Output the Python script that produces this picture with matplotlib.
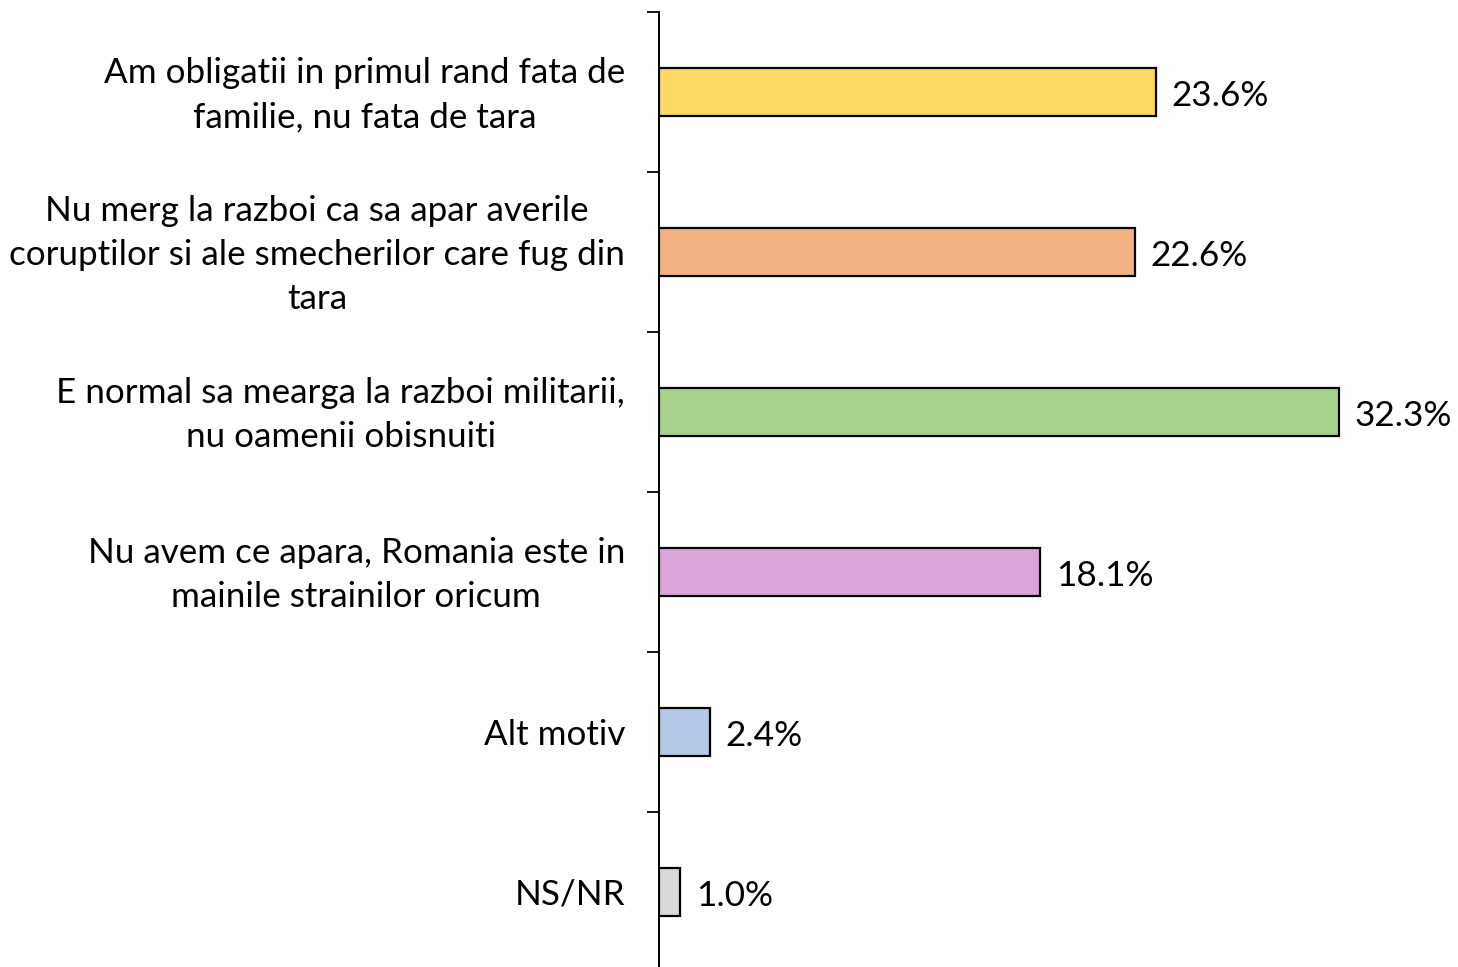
import matplotlib
matplotlib.use("Agg")
import matplotlib.pyplot as plt
from matplotlib.ticker import FixedLocator

plt.rcParams['font.family'] = ['Lato', 'DejaVu Sans']

categories = [
    "Am obligatii in primul rand fata de\nfamilie, nu fata de tara",
    "Nu merg la razboi ca sa apar averile\ncoruptilor si ale smecherilor care fug din\ntara",
    "E normal sa mearga la razboi militarii,\nnu oamenii obisnuiti",
    "Nu avem ce apara, Romania este in\nmainile strainilor oricum",
    "Alt motiv",
    "NS/NR",
]
values = [23.6, 22.6, 32.3, 18.1, 2.4, 1.0]
colors = ["#FFD966", "#F4B183", "#A9D18E", "#DBA5DC", "#B4C7E7", "#D9D9D9"]

W, H = 1458, 967
fig = plt.figure(figsize=(W / 100, H / 100), dpi=100)
ax_left = 659 / W
ax_top = 12
ax_bottom_px = 972
xmax = 37.5
px_per = 21.05
ax = fig.add_axes([ax_left, (H - ax_bottom_px) / H, xmax * px_per / W, (ax_bottom_px - ax_top) / H])

ypos = list(range(len(values)))
ax.barh(ypos, values, height=0.3, color=colors, edgecolor="black", linewidth=1.6)
for y, v in zip(ypos, values):
    ax.text(v + 0.75, y + 0.025, f"{v:.1f}%", va="center", ha="left", fontsize=25.3)

ax.set_xlim(0, xmax)
ax.set_ylim(len(values) - 0.5, -0.5)
ax.set_yticks(ypos)
ax.set_yticklabels([""] * len(categories))
for y, lab in zip(ypos, categories):
    ax.annotate(lab, xy=(0, y), xycoords=("axes fraction", "data"),
                xytext=(-24.5, -2.0), textcoords="offset points",
                ha="right", va="center", ma="center",
                fontsize=25.2, linespacing=1.46, annotation_clip=False)
ax.yaxis.set_minor_locator(FixedLocator([i - 0.5 for i in range(len(values) + 1)]))
ax.tick_params(axis="y", which="major", length=0, pad=24)
ax.tick_params(axis="y", which="minor", length=8.5, width=1.3, color="black")
ax.set_xticks([])
for s in ["top", "right", "bottom"]:
    ax.spines[s].set_visible(False)
ax.spines["left"].set_linewidth(1.4)

fig.savefig("out.png", dpi=100)
